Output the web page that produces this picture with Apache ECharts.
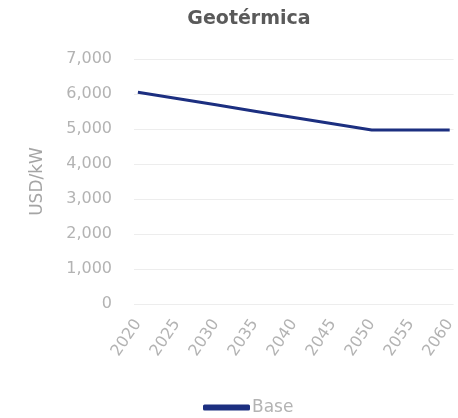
<!DOCTYPE html>
<html>
<head>
<meta charset="utf-8">
<script src="https://cdn.jsdelivr.net/npm/echarts@6/dist/echarts.min.js"></script>
<style>html,body{margin:0;padding:0;background:#fff;}#c{width:458px;height:418px;}</style>
</head>
<body>
<div id="c"></div>
<script>
const years = [2020, 2025, 2030, 2035, 2040, 2045, 2050, 2055, 2060];
const baseValues = [6050, 5870, 5690, 5510, 5330, 5150, 4970, 4970, 4970];
const yTicks = [0, 1000, 2000, 3000, 4000, 5000, 6000, 7000];
const seriesName = 'Base';
const titleText = 'Geotérmica';
const yName = 'USD/kW';

const FONT = '"DejaVu Sans", Verdana, sans-serif';
const chart = echarts.init(document.getElementById('c'));
chart.setOption({
  animation: false,
  title: {
    text: titleText,
    left: 244, top: 5, textAlign: 'center',
    textStyle: { fontFamily: FONT, fontWeight: 'bold', fontSize: 19, color: '#5a5a5a' }
  },
  grid: { left: 134, right: -1, top: 59, bottom: 114 },
  xAxis: {
    type: 'value', min: 2019.5, max: 2060.5,
    axisLine: { show: false }, axisTick: { show: false }, splitLine: { show: false },
    axisLabel: {
      customValues: years, rotate: 56, margin: 17,
      color: '#b3b3b3', fontSize: 16, fontFamily: FONT,
      formatter: v => String(v)
    }
  },
  yAxis: {
    type: 'value', min: yTicks[0], max: yTicks[yTicks.length - 1], interval: 1000,
    name: yName, nameLocation: 'middle', nameGap: 88, nameRotate: 90,
    nameTextStyle: { color: '#a5a5a5', fontSize: 17, fontFamily: FONT },
    axisLine: { show: false }, axisTick: { show: false },
    splitLine: { lineStyle: { color: '#ededed', width: 1 } },
    axisLabel: {
      margin: 22, color: '#b3b3b3', fontSize: 16, fontFamily: FONT,
      formatter: v => v.toLocaleString('en-US')
    }
  },
  legend: {
    top: 394, left: 198,
    itemWidth: 47, itemHeight: 6, itemGap: 10,
    icon: 'roundRect',
    textStyle: { color: '#b3b3b3', fontSize: 17, fontFamily: FONT, padding: [0, 0, 0, -3] },
    data: [seriesName]
  },
  series: [{
    name: seriesName, type: 'line',
    data: years.map((y, i) => [y, baseValues[i]]),
    showSymbol: false, symbol: 'none',
    lineStyle: { color: '#1c2f80', width: 3 },
    itemStyle: { color: '#1c2f80' }
  }]
});
</script>
</body>
</html>
